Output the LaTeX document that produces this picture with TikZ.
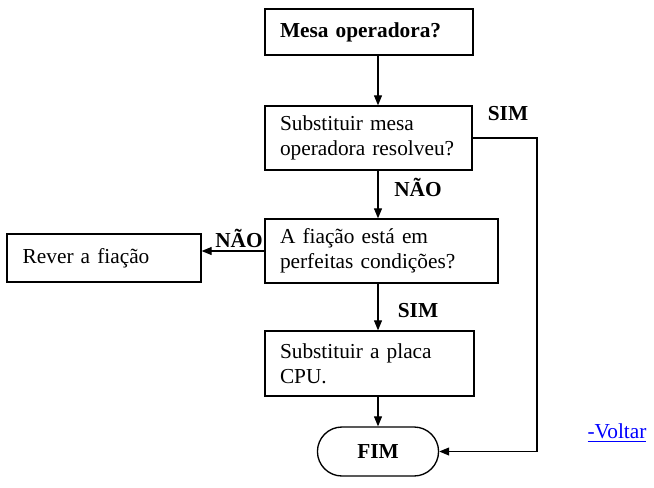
\documentclass[tikz,border=0pt]{standalone}
\usepackage{fontspec}
\setmainfont{Liberation Serif}
\usetikzlibrary{positioning,shapes.misc,arrows.meta}
\definecolor{linkblue}{HTML}{0000FF}

\begin{document}
\begin{tikzpicture}[x=0.75pt, y=-0.75pt,
    font=\fontsize{16}{19}\selectfont,
    caixa/.style={draw, line width=1pt, align=left, inner xsep=11.25pt, inner ysep=2pt},
    terminal/.style={draw, line width=1pt, rounded rectangle, font=\fontsize{16}{19}\selectfont\bfseries},
    etiqueta/.style={font=\fontsize{16}{19}\selectfont\bfseries, inner sep=0pt},
    seta/.style={line width=0.8pt, -{Triangle[length=7.5pt, width=6pt]}}]

    % Fixed frame
    \useasboundingbox (0,0) rectangle (654,487);

    % Steps of the chart
    \node[caixa, text width=133.5pt, minimum height=34.5pt] (mesa) at (369,32) {\bfseries Mesa operadora?};
    \node[caixa, text width=132.75pt, minimum height=48pt] (subst) at (368.5,138) {Substituir mesa\\operadora resolveu?};
    \node[caixa, text width=152.25pt, minimum height=48pt] (fiacao) at (381.5,251) {A fiação está em\\perfeitas condições?};
    \node[caixa, text width=122pt, minimum height=36pt, inner xsep=11.75pt] (rever) at (104,258) {Rever a fiação};
    \node[caixa, text width=134.25pt, minimum height=48.75pt] (placa) at (369.5,363.5) {Substituir a placa\\CPU.};
    \node[terminal, minimum width=97.5pt, minimum height=36.75pt] (fim) at (378,451.5) {FIM};

    % Link
    \node[text=linkblue] (voltar) at (617,433) {\underline{-Voltar}};

    % Connectors
    \draw[seta] (mesa.south -| fim.north) -- (subst.north -| fim.north);
    \draw[seta] (subst.south -| fim.north) -- (fiacao.north -| fim.north);
    \draw[seta] (fiacao.south -| fim.north) -- (placa.north -| fim.north);
    \draw[seta] (placa.south -| fim.north) -- (fim.north);
    \draw[seta] (fiacao.west) -- (fiacao.west -| rever.east);
    \coordinate (canto) at (537,138);
    \draw[seta] (subst.east) -- (canto) |- (fim.east);

    % Branch labels
    \node[etiqueta] (simA) at (508,114) {SIM};
    \node[etiqueta] (naoA) at (418,187) {NÃO};
    \node[etiqueta] (naoB) at (239,238) {NÃO};
    \node[etiqueta] (simB) at (418,311) {SIM};
\end{tikzpicture}
\end{document}
